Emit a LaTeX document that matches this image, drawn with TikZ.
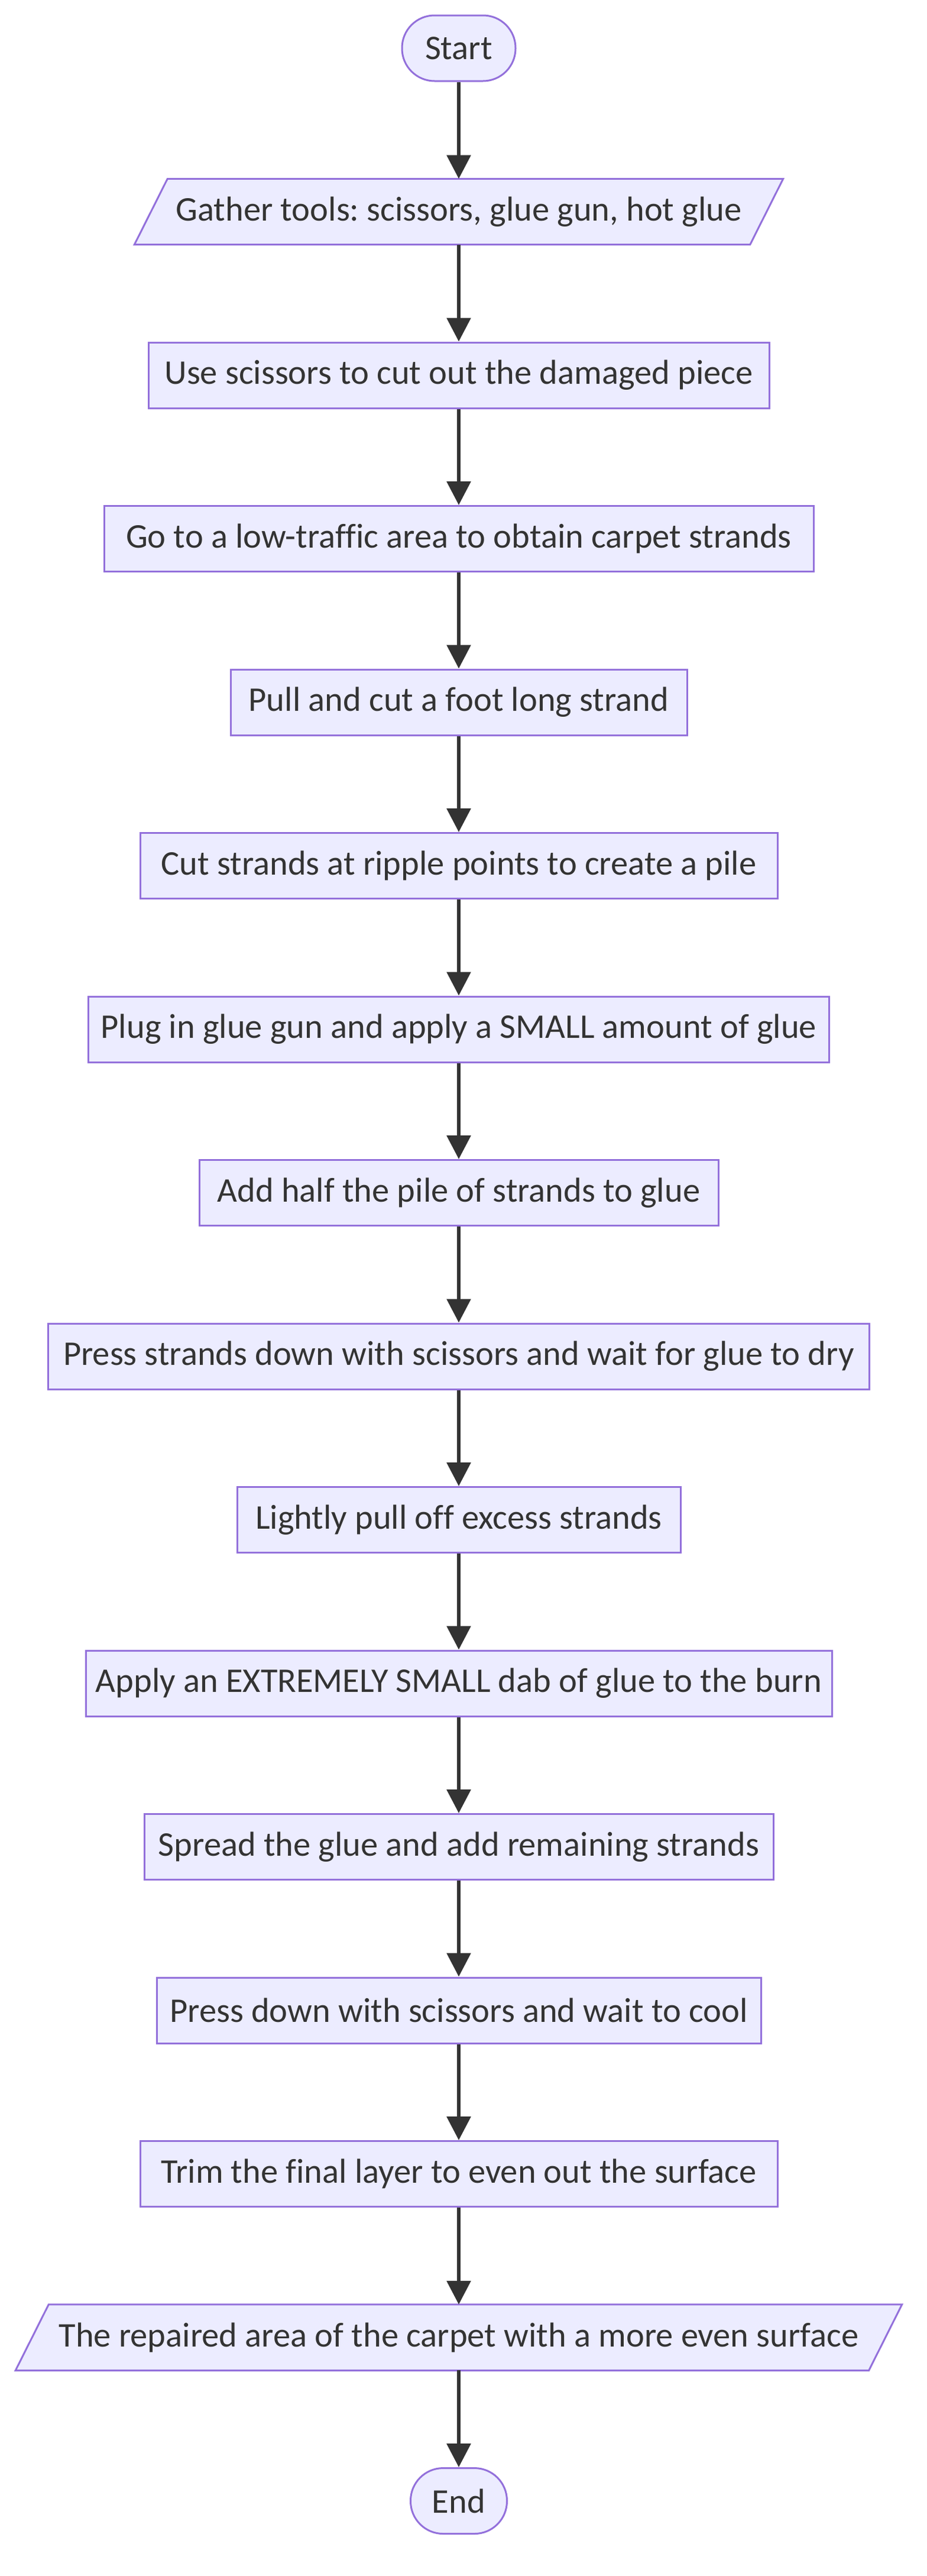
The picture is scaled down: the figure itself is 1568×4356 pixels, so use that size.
\documentclass[tikz,border=0pt]{standalone}
\usepackage{fontspec}
\setmainfont[Ligatures=CommonOff]{Carlito}
\usetikzlibrary{arrows.meta,backgrounds,calc}
\definecolor{boxfill}{HTML}{ECECFF}
\definecolor{boxline}{HTML}{9370DB}
\definecolor{ink}{HTML}{333333}
\tikzset{
  stepbox/.style={draw=boxline, fill=boxfill, line width=3pt, minimum height=111pt,
    inner sep=0pt, text=ink, font=\fontsize{58.5}{66}\selectfont\frenchspacing},
  termbox/.style={stepbox, rounded corners=55pt},
  iobox/.style={minimum height=111pt, inner sep=0pt, text=ink, font=\fontsize{58.5}{66}\selectfont\frenchspacing},
  ioshape/.style={draw=boxline, fill=boxfill, line width=3pt},
  flow/.style={draw=ink, line width=6pt, -{Triangle[length=40pt,width=40pt]}},
}
\begin{document}
\begin{tikzpicture}[x=1pt,y=-1pt]
\useasboundingbox (0,0) rectangle (1568,4356);
\node[termbox, minimum width=192pt] (n0) at (776,81.5) {Start};
\node[iobox, minimum width=1041pt] (n1) at (776,358) {Gather tools: scissors, glue gun, hot glue};
\node[stepbox, minimum width=1050pt] (n2) at (776,634.5) {Use scissors to cut out the damaged piece};
\node[stepbox, minimum width=1200pt] (n3) at (776,911) {Go to a low-traffic area to obtain carpet strands};
\node[stepbox, minimum width=772pt] (n4) at (776,1187.5) {Pull and cut a foot long strand};
\node[stepbox, minimum width=1078pt] (n5) at (776,1464) {Cut strands at ripple points to create a pile};
\node[stepbox, minimum width=1253pt] (n6) at (776,1740.5) {Plug in glue gun and apply a SMALL amount of glue};
\node[stepbox, minimum width=878pt] (n7) at (776,2017) {Add half the pile of strands to glue};
\node[stepbox, minimum width=1389pt] (n8) at (776,2293.5) {Press strands down with scissors and wait for glue to dry};
\node[stepbox, minimum width=750pt] (n9) at (776,2570) {Lightly pull off excess strands};
\node[stepbox, minimum width=1262pt] (n10) at (776,2846.5) {Apply an EXTREMELY SMALL dab of glue to the burn};
\node[stepbox, minimum width=1064pt] (n11) at (776,3123) {Spread the glue and add remaining strands};
\node[stepbox, minimum width=1022pt] (n12) at (776,3399.5) {Press down with scissors and wait to cool};
\node[stepbox, minimum width=1078pt] (n13) at (776,3676) {Trim the final layer to even out the surface};
\node[iobox, minimum width=1443pt] (n14) at (776,3952.5) {The repaired area of the carpet with a more even surface};
\node[termbox, minimum width=163pt] (n15) at (776,4229) {End};
\begin{scope}[on background layer]
\draw[ioshape] ($(n1.north west)+(28,0)$) -- ($(n1.north east)+(28,0)$) -- ($(n1.south east)+(-28,0)$) -- ($(n1.south west)+(-28,0)$) -- cycle;
\draw[ioshape] ($(n14.north west)+(28,0)$) -- ($(n14.north east)+(28,0)$) -- ($(n14.south east)+(-28,0)$) -- ($(n14.south west)+(-28,0)$) -- cycle;
\end{scope}
\foreach \a/\b in {n0/n1,n1/n2,n2/n3,n3/n4,n4/n5,n5/n6,n6/n7,n7/n8,n8/n9,n9/n10,n10/n11,n11/n12,n12/n13,n13/n14,n14/n15}
  \draw[flow] (\a) -- (\b);
\end{tikzpicture}
\end{document}
